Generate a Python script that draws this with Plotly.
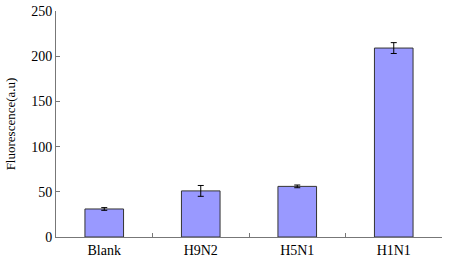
import plotly.graph_objects as go

categories = ["Blank", "H9N2", "H5N1", "H1N1"]
values = [31, 51, 56, 209]
errors = [1.5, 6, 1.5, 6]
y_ticks = [0, 50, 100, 150, 200, 250]

fig = go.Figure(go.Bar(
    x=categories, y=values,
    marker=dict(color="#9999FF", line=dict(color="#333333", width=1)),
    width=0.4,
    error_y=dict(type="data", array=errors, color="black", thickness=1, width=3),
))

fig.update_layout(
    width=450, height=261,
    margin=dict(l=56, r=8, t=11, b=24),
    paper_bgcolor="white", plot_bgcolor="white",
    font=dict(family="Liberation Serif", size=14, color="black"),
    showlegend=False,
)
fig.update_xaxes(
    showline=True, linecolor="#777777", linewidth=1,
    ticks="inside", ticklen=4, tickcolor="#777777", tickson="boundaries",
    showgrid=False, range=[-0.5, 3.5], automargin=False,
)
fig.update_yaxes(
    showline=True, linecolor="#777777", linewidth=1,
    ticks="inside", ticklen=4, tickcolor="#777777",
    tickvals=y_ticks, range=[0, 250], showgrid=False, zeroline=False,
    automargin=False,
    title=dict(text="Fluorescence(a.u)", standoff=12, font=dict(size=13)),
)

fig.write_html(
    "out.html",
    config={"displayModeBar": False},
    post_script="document.body.style.margin='0';document.body.style.padding='0';",
)
